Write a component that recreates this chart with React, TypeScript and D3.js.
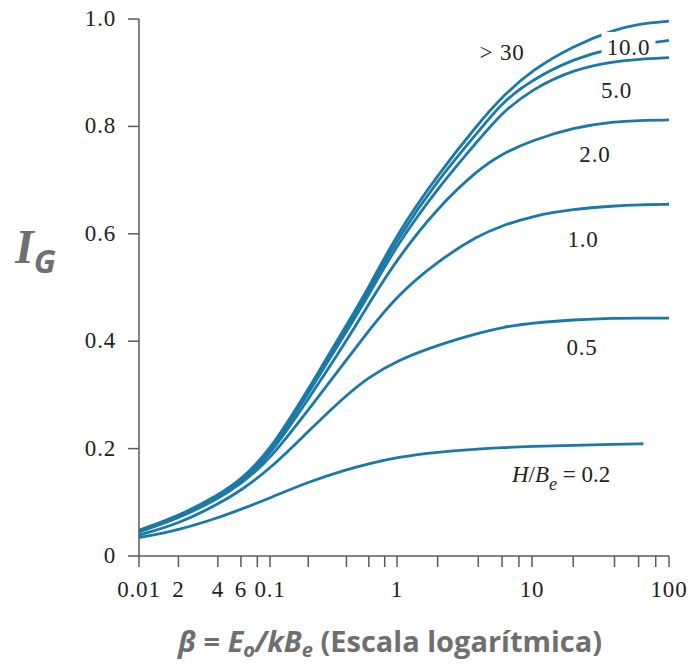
import React from "react";
import * as d3 from "d3";

// beta values (log scale) at which curves were read
const betaValues = [0.01, 0.02, 0.04, 0.06, 0.1, 0.2, 0.4, 0.6, 1, 2, 4, 6, 10, 20, 40, 60, 100];
const igGt30 = [0.048, 0.074, 0.113, 0.142, 0.196, 0.31, 0.43, 0.5, 0.6, 0.71, 0.805, 0.855, 0.905, 0.95, 0.98, 0.991, 0.996];
const ig10 = [0.047, 0.073, 0.111, 0.14, 0.193, 0.306, 0.425, 0.494, 0.59, 0.7, 0.79, 0.845, 0.887, 0.926, 0.947, 0.953, 0.96];
const ig5 = [0.047, 0.072, 0.11, 0.139, 0.191, 0.302, 0.418, 0.486, 0.58, 0.685, 0.774, 0.826, 0.869, 0.906, 0.921, 0.925, 0.928];
const ig2 = [0.046, 0.071, 0.109, 0.137, 0.187, 0.292, 0.4, 0.47, 0.553, 0.649, 0.72, 0.749, 0.774, 0.798, 0.809, 0.811, 0.812];
const ig1 = [0.045, 0.07, 0.106, 0.134, 0.18, 0.272, 0.365, 0.42, 0.485, 0.549, 0.597, 0.615, 0.633, 0.646, 0.652, 0.654, 0.655];
const ig05 = [0.039, 0.06, 0.096, 0.122, 0.162, 0.232, 0.3, 0.333, 0.364, 0.393, 0.415, 0.426, 0.434, 0.44, 0.443, 0.443, 0.443];
const beta02 = [0.01, 0.02, 0.04, 0.06, 0.1, 0.2, 0.4, 0.6, 1, 2, 4, 6, 10, 20, 40, 65];
const ig02 = [0.034, 0.048, 0.071, 0.087, 0.108, 0.138, 0.161, 0.172, 0.184, 0.194, 0.199, 0.202, 0.204, 0.206, 0.208, 0.209];

// axis ticks
const yTickValues = [0, 0.2, 0.4, 0.6, 0.8, 1.0];
const yTickLabels = ["0", "0.2", "0.4", "0.6", "0.8", "1.0"];
const xMinorTicks = [
  0.01, 0.02, 0.04, 0.06, 0.08, 0.1, 0.2, 0.4, 0.6, 0.8, 1, 2, 4, 6, 8, 10, 20, 40, 60, 80, 100,
];
const xLabelValues = [0.01, 0.02, 0.04, 0.06, 0.1, 1, 10, 100];
const xLabelTexts = ["0.01", "2", "4", "6", "0.1", "1", "10", "100"];

// curve labels (H/Be) in data coordinates
const curveLabelTexts = ["> 30", "10.0", "5.0", "2.0", "1.0", "0.5"];
const curveLabelBeta = [6.0, 50.6, 41.4, 28.8, 23.6, 23.2];
const curveLabelIg = [0.924, 0.933, 0.853, 0.734, 0.575, 0.374];
const bottomLabelBeta = 7.1;
const bottomLabelIg = 0.138;

const LINE = "#1b79a7";
const AXIS = "#5a5a5a";
const TXT = "#222";
const TITLE = "#6f6f6f";
const SERIF = "'Liberation Serif', 'Times New Roman', serif";

export default function App() {
  const x = d3
    .scaleLog()
    .domain([0.01, 0.1, 1, 10, 100])
    .range([139, 270, 397, 532, 669]);
  const y = d3.scaleLinear().domain([0, 1]).range([556, 19]);

  const line = d3
    .line<[number, number]>()
    .x((d) => x(d[0]))
    .y((d) => y(d[1]))
    .curve(d3.curveBasis);

  const series = [igGt30, ig10, ig5, ig2, ig1, ig05].map((vals) =>
    line(betaValues.map((b, i) => [b, vals[i]] as [number, number]))
  );
  series.push(line(beta02.map((b, i) => [b, ig02[i]] as [number, number])));

  // 10.0 label box (masks curve behind label)
  const lbl10x = x(curveLabelBeta[1]);
  const lbl10y = y(curveLabelIg[1]);

  return (
    <svg
      width={691}
      height={664}
      style={{ position: "absolute", left: 0, top: 0, background: "#fff" }}
    >
      <rect x={0} y={0} width={691} height={664} fill="#fff" />
      {/* curves */}
      {series.map((d, i) => (
        <path key={i} d={d || ""} fill="none" stroke={LINE} strokeWidth={2.8} strokeLinecap="butt" />
      ))}
      {/* mask behind 10.0 label */}
      <rect x={lbl10x - 27} y={lbl10y - 23} width={54} height={24} fill="#fff" />

      {/* axes */}
      <line x1={x(0.01)} x2={x(0.01)} y1={y(1)} y2={y(0)} stroke={AXIS} strokeWidth={1.5} />
      <line x1={x(0.01)} x2={x(100)} y1={y(0)} y2={y(0)} stroke={AXIS} strokeWidth={1.5} />
      {yTickValues.map((v, i) => (
        <g key={"yt" + i}>
          <line x1={x(0.01) - 11} x2={x(0.01)} y1={y(v)} y2={y(v)} stroke={AXIS} strokeWidth={1.5} />
          <text
            x={x(0.01) - 23}
            y={y(v) + 7}
            textAnchor="end"
            fontFamily={SERIF}
            fontSize={23}
            letterSpacing={0.8}
            fill={TXT}
          >
            {yTickLabels[i]}
          </text>
        </g>
      ))}
      {xMinorTicks.map((v, i) => (
        <line key={"xt" + i} x1={x(v)} x2={x(v)} y1={y(0)} y2={y(0) + 11} stroke={AXIS} strokeWidth={1.5} />
      ))}
      {xLabelValues.map((v, i) => (
        <text
          key={"xl" + i}
          x={x(v)}
          y={597}
          textAnchor="middle"
          fontFamily={SERIF}
          fontSize={23}
          letterSpacing={0.8}
          fill={TXT}
        >
          {xLabelTexts[i]}
        </text>
      ))}

      {/* curve labels */}
      {curveLabelTexts.map((t, i) => (
        <text
          key={"cl" + i}
          x={x(curveLabelBeta[i])}
          y={y(curveLabelIg[i])}
          textAnchor="middle"
          fontFamily={SERIF}
          fontSize={23}
          letterSpacing={0.8}
          fill={TXT}
        >
          {t}
        </text>
      ))}
      <text
        x={x(bottomLabelBeta)}
        y={y(bottomLabelIg)}
        fontFamily={SERIF}
        fontSize={23}
        fill={TXT}
      >
        <tspan fontStyle="italic">H</tspan>
        <tspan>/</tspan>
        <tspan fontStyle="italic">B</tspan>
        <tspan fontStyle="italic" fontSize={18} dy={8}>e</tspan>
        <tspan dy={-8}>{" = 0.2"}</tspan>
      </text>

      {/* y title */}
      <text x={15} y={263} fill={TITLE} fontWeight="bold" fontStyle="italic">
        <tspan fontFamily={SERIF} fontSize={48}>I</tspan>
        <tspan fontFamily="'Open Sans', sans-serif" fontSize={32} dy={10}>G</tspan>
      </text>

      {/* x title */}
      <text x={178} y={652} fill={TITLE} fontWeight="bold" fontFamily="'Open Sans', sans-serif" fontSize={29}>
        <tspan fontStyle="italic">β</tspan>
        <tspan>{" = "}</tspan>
        <tspan fontStyle="italic">E</tspan>
        <tspan fontStyle="italic" fontSize={20} dy={5}>o</tspan>
        <tspan fontStyle="italic" dy={-5}>/kB</tspan>
        <tspan fontStyle="italic" fontSize={20} dy={5}>e</tspan>
        <tspan dy={-5}>{" (Escala logarítmica)"}</tspan>
      </text>
    </svg>
  );
}
